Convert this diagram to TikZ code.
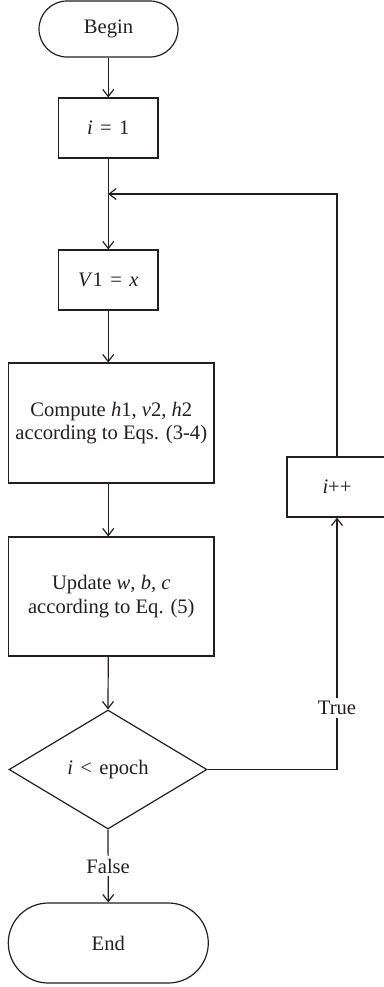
\documentclass[tikz,border=0pt]{standalone}
\usepackage{fontspec}
\setmainfont{Liberation Serif}
\usetikzlibrary{arrows.meta,shapes.geometric}
\definecolor{ink}{RGB}{35,31,32}
\newcommand{\var}[1]{\textit{#1}}
\newcommand{\rel}[1]{\hspace{0.36em}#1\hspace{0.36em}}
\begin{document}
\begin{tikzpicture}[x=0.5pt,y=-0.5pt,
  every node/.style={font=\fontsize{10.3}{11.8}\selectfont, text=ink, inner sep=0pt, align=center},
  line/.style={draw=ink, line width=0.6pt},
  flow/.style={line, -{Straight Barb[length=3.5pt,width=5.5pt,line width=0.6pt]}},
  terminal/.style={line, rectangle, rounded corners=#1},
  stepbox/.style={line, rectangle},
  decision/.style={line, diamond, inner sep=0pt},
  tag/.style={fill=white, inner sep=1.5pt}]
\useasboundingbox (0,0) rectangle (384,987);

% process nodes
\node[terminal=14pt, minimum width=69.5pt, minimum height=28pt] (begin) at (108.5,29) {Begin};
\node[stepbox, minimum width=49.75pt, minimum height=30pt] (init) at (108.25,128) {\var{i}\rel{=}1};
\node[stepbox, minimum width=49.75pt, minimum height=30pt] (visible) at (108.25,280) {\var{V}1\rel{=}\var{x}};
\node[stepbox, minimum width=102.6pt, minimum height=60pt] (compute) at (111.3,423)
  {Compute \var{h}1, \var{v}2, \var{h}2\\according to Eqs. (3-4)};
\node[stepbox, minimum width=102.6pt, minimum height=59.5pt] (update) at (111.3,596.5)
  {Update \var{w}, \var{b}, \var{c}\\according to Eq. (5)};
\node[decision, minimum width=99pt, minimum height=59.5pt] (test) at (108,769.5) {\var{i}\rel{<}epoch};
\node[terminal=20pt, minimum width=100pt, minimum height=40pt] (end) at (108.3,943) {End};
\node[stepbox, minimum width=50pt, minimum height=30pt] (incr) at (337,487) {\var{i}++};

% loop junction and corner
\coordinate (join) at (108.25,194);
\coordinate (corner) at (test.east -| incr.south);

% main flow
\draw[flow] (begin.south -| init.north) -- (init.north);
\draw[flow] (init.south) -- (visible.north);
\draw[flow] (visible.south) -- (visible.south |- compute.north);
\draw[flow] (visible.south |- compute.south) -- (visible.south |- update.north);
\draw[flow] (visible.south |- update.south) -- (test.north);
\draw[flow] (test.south) -- node[tag, pos=0.5] {False} (end.north);

% loop back through i++
\draw[flow] (test.east) -- (corner) -- node[tag, pos=0.245] {True} (incr.south);
\draw[flow] (incr.north) |- (join);
\end{tikzpicture}
\end{document}
